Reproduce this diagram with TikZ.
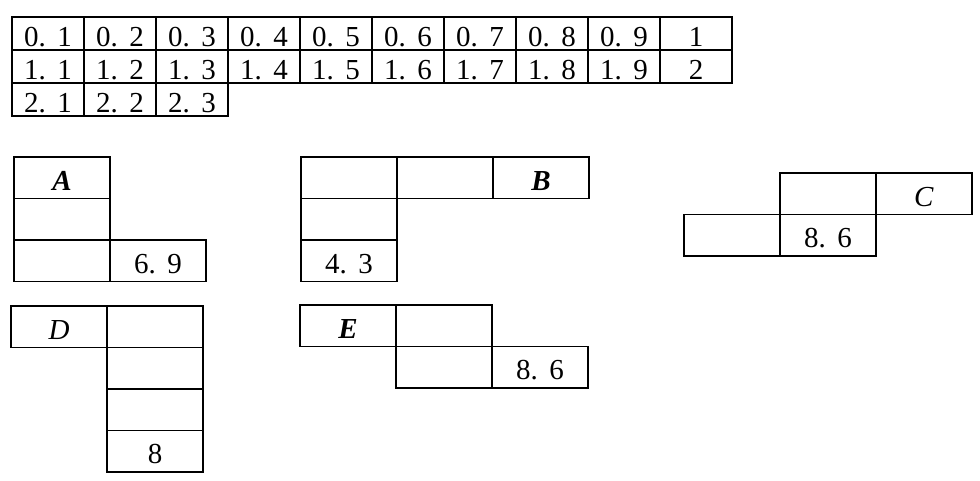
\documentclass[tikz,border=0pt]{standalone}
\usepackage{fontspec}
\setmainfont{Liberation Serif}
\newcommand\dd[2]{#1.\hspace{0.4em}#2}
\begin{document}
\begin{tikzpicture}[x=1pt,y=-1pt,
  cell/.style={draw,line width=1.7pt,inner sep=0pt,outer sep=0pt,anchor=north west,
    font=\fontsize{29}{29}\selectfont,text height=25pt,text depth=0pt},
  tcell/.style={cell,minimum width=72pt,minimum height=33pt},
  bcell/.style={cell,minimum width=96pt,minimum height=41.5pt}]
\useasboundingbox (0,0) rectangle (980,480);
% top table
\foreach \i in {1,...,9}{
  \node[tcell] (ta\i) at ({12+72*(\i-1)},17) {\dd{0}{\i}};
  \node[tcell] (tb\i) at ({12+72*(\i-1)},50) {\dd{1}{\i}};
}
\node[tcell] (ta10) at (660,17) {1};
\node[tcell] (tb10) at (660,50) {2};
\foreach \i in {1,2,3}{
  \node[tcell] (tc\i) at ({12+72*(\i-1)},83) {\dd{2}{\i}};
}
% A
\node[bcell] (a1) at (14,157) {\textbf{\textit{A}}};
\node[bcell] (a2) at (14,198.5) {};
\node[bcell] (a3) at (14,240) {};
\node[bcell] (a4) at (110,240) {\dd{6}{9}};
% B
\node[bcell] (b1) at (301,157) {};
\node[bcell] (b2) at (397,157) {};
\node[bcell] (b3) at (493,157) {\textbf{\textit{B}}};
\node[bcell] (b4) at (301,198.5) {};
\node[bcell] (b5) at (301,240) {\dd{4}{3}};
% C
\node[bcell] (c1) at (780,173) {};
\node[bcell] (c2) at (876,173) {\textit{C}};
\node[bcell] (c3) at (684,214.5) {};
\node[bcell] (c4) at (780,214.5) {\dd{8}{6}};
% D
\node[bcell] (d1) at (11,306) {\textit{D}};
\node[bcell] (d2) at (107,306) {};
\node[bcell] (d3) at (107,347.5) {};
\node[bcell] (d4) at (107,389) {};
\node[bcell] (d5) at (107,430.5) {8};
% E
\node[bcell] (e1) at (300,305) {\textbf{\textit{E}}};
\node[bcell] (e2) at (396,305) {};
\node[bcell] (e3) at (396,346.5) {};
\node[bcell] (e4) at (492,346.5) {\dd{8}{6}};
\end{tikzpicture}
\end{document}
